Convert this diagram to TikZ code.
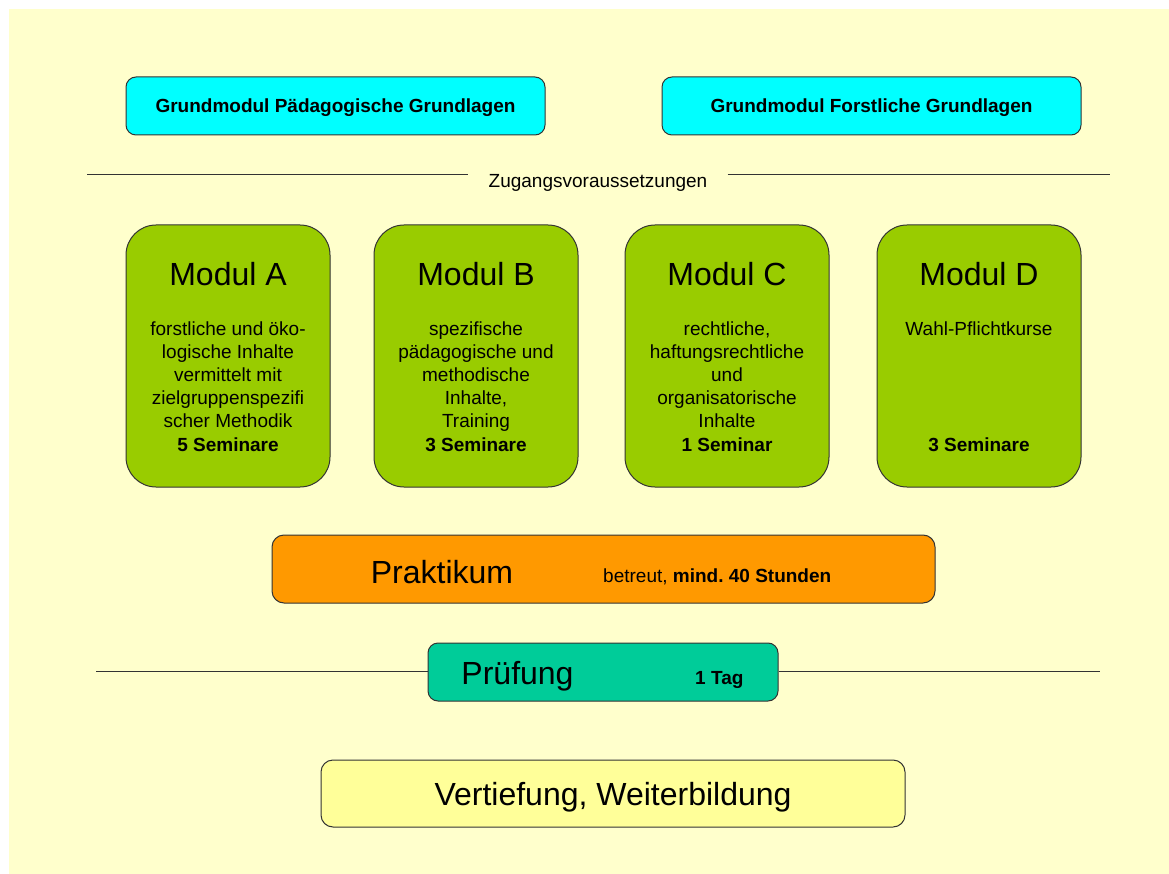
\documentclass[tikz,border=0pt]{standalone}
\usepackage{fontspec}
\setmainfont{Liberation Sans}
\usepackage{tikz}
\frenchspacing

\definecolor{hgrund}{HTML}{FFFFCC}
\definecolor{grundblau}{HTML}{00FFFF}
\definecolor{modulgruen}{HTML}{99CC00}
\definecolor{praxisorange}{HTML}{FF9900}
\definecolor{pruefgruen}{HTML}{00CC99}
\definecolor{weitergelb}{HTML}{FFFF99}
\definecolor{rand}{HTML}{333333}

\tikzset{
	kasten/.style={draw=rand, line width=1pt, inner sep=0pt},
	grund/.style={kasten, fill=grundblau, rounded corners=10pt, minimum width=419pt, minimum height=58pt, text height=18pt, text depth=4pt, font=\fontsize{19}{23}\selectfont\bfseries},
	modul/.style={kasten, fill=modulgruen, rounded corners=30pt, minimum width=204pt, minimum height=262pt},
	titel/.style={inner sep=0pt, font=\fontsize{32}{38}\selectfont},
	inhalt/.style={inner sep=0pt, align=center, font=\fontsize{19}{23}\selectfont},
	linie/.style={draw=rand, line width=1pt}
}

\begin{document}
\begin{tikzpicture}[x=1pt,y=-1pt]
			\useasboundingbox (0,0) rectangle (1169,874);
			\fill[hgrund] (9,9) rectangle (1169,874);

			% grundmodule
			\node[grund] (grundP) at (335.5,106) {Grundmodul Pädagogische Grundlagen};
			\node[grund] (grundF) at (871.5,106) {Grundmodul Forstliche Grundlagen};

			% zugangsvoraussetzungen
			\node[inhalt, inner xsep=20pt] (zug) at (598,182.5) {Zugangsvoraussetzungen};
			\coordinate (zl) at (87,175);
			\coordinate (zr) at (1110,175);
			\draw[linie] (zl) -- (zl -| zug.west);
			\draw[linie] (zr -| zug.east) -- (zr);

			% module
			\node[modul] (modA) at (228,356) {};
			\node[modul] (modB) at (476,356) {};
			\node[modul] (modC) at (727,356) {};
			\node[modul] (modD) at (979,356) {};

			\node[titel, anchor=base] (titA) at (228,286) {Modul A};
			\node[titel, anchor=base] (titB) at (476,286) {Modul B};
			\node[titel, anchor=base] (titC) at (727,286) {Modul C};
			\node[titel, anchor=base] (titD) at (979,286) {Modul D};

			\node[inhalt, anchor=north] (txtA) at (228,322) {forstliche und öko-\\logische Inhalte\\vermittelt mit\\zielgruppenspezifi\\scher Methodik};
			\node[inhalt, anchor=north] (txtB) at (476,322) {spezifische\\pädagogische und\\methodische\\Inhalte,\\Training};
			\node[inhalt, anchor=north] (txtC) at (727,322) {rechtliche,\\haftungsrechtliche\\und\\organisatorische\\Inhalte};
			\node[inhalt, anchor=north] (txtD) at (979,322) {Wahl-Pflichtkurse};

			\node[inhalt, anchor=base] (semA) at (228,451) {\textbf{5 Seminare}};
			\node[inhalt, anchor=base] (semB) at (476,451) {\textbf{3 Seminare}};
			\node[inhalt, anchor=base] (semC) at (727,451) {\textbf{1 Seminar}};
			\node[inhalt, anchor=base] (semD) at (979,451) {\textbf{3 Seminare}};

			% praktikum
			\node[kasten, fill=praxisorange, rounded corners=12pt, minimum width=663pt, minimum height=68pt] (praxis) at (603.5,569) {};
			\node[titel, anchor=base] (praxisT) at (442,583) {Praktikum};
			\node[inhalt, anchor=base west] (praxisS) at (603,582) {betreut, \textbf{mind. 40 Stunden}};

			% pruefung
			\node[kasten, fill=pruefgruen, rounded corners=10pt, minimum width=350pt, minimum height=58pt] (pruef) at (603,672) {};
			\node[titel, anchor=base] (pruefT) at (517.5,684) {Prüfung};
			\node[inhalt, anchor=base west] (pruefS) at (695,684) {\textbf{1 Tag}};
			\coordinate (pl) at (96,671);
			\coordinate (pr) at (1100,671);
			\draw[linie] (pl) -- (pl -| pruef.west);
			\draw[linie] (pr -| pruef.east) -- (pr);

			% weiterbildung
			\node[kasten, fill=weitergelb, rounded corners=12pt, minimum width=584pt, minimum height=67pt, text height=30pt, text depth=7pt, font=\fontsize{32}{38}\selectfont] (weiter) at (613,793.5) {Vertiefung, Weiterbildung};
		\end{tikzpicture}
\end{document}
